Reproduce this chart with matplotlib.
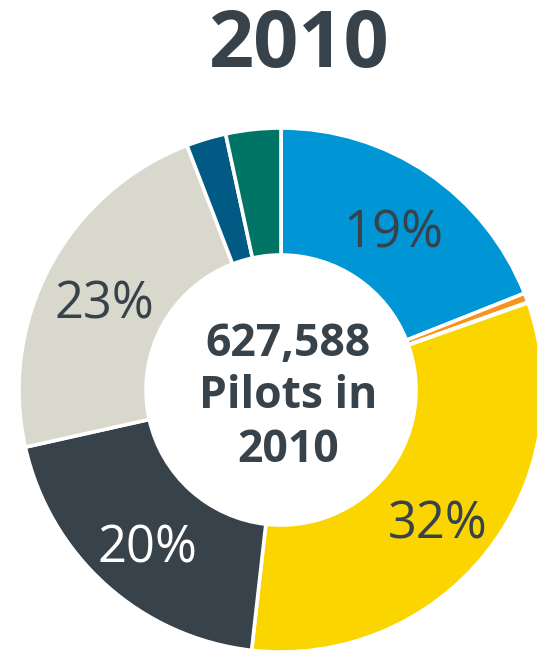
import matplotlib
matplotlib.use("Agg")
import matplotlib.pyplot as plt

# Pilot certificates held in 2010, clockwise from 12 o'clock
categories = ["Student", "Sport", "Recreational", "Private", "Commercial",
              "Airline Transport", "Rotorcraft Only", "Glider Only"]
pilots = [119119, 3682, 212, 202020, 123705, 142198, 15377, 21275]
colors = ["#0096D6", "#F7941D", "#F7941D", "#FBD500", "#37424A",
          "#D9D8CC", "#005A84", "#007565"]
label_colors = ["#37424A", None, None, "#37424A", "#FFFFFF", "#37424A", None, None]

title = "2010"
total = sum(pilots)
center_lines = [f"{total:,}", "Pilots in", title]

plt.rcParams["font.family"] = ["Open Sans", "DejaVu Sans"]
TEXT = "#37424A"

W, H = 537, 653
fig = plt.figure(figsize=(W / 100, H / 100), dpi=100)
ax = fig.add_axes([0, 0, 1, 1])

cx, cy, R = 281, H - 390, 262
wedges, _, autotexts = ax.pie(
    pilots, colors=colors, startangle=90, counterclock=False,
    center=(cx, cy), radius=R,
    autopct=lambda p: f"{p:.0f}%" if p > 5 else "",
    pctdistance=0.765,
    wedgeprops=dict(width=127, edgecolor="white", linewidth=2.6),
    textprops=dict(fontsize=36.5),
)
for t, c in zip(autotexts, label_colors):
    if c is not None:
        t.set_color(c)
    # nudge the glyphs down so the digits sit centred on the ring
    x, y = t.get_position()
    t.set_position((x, y - 10))

ax.set_xlim(0, W)
ax.set_ylim(0, H)
ax.set_aspect("auto")
ax.axis("off")

ax.text(298, H - 47, title, ha="center", va="center",
        fontsize=57, fontweight="bold", color=TEXT)

for i, line in enumerate(center_lines):
    ax.text(288, H - (344 + 53 * i), line, ha="center", va="center",
            fontsize=32, fontweight="bold", color=TEXT)

fig.savefig("out.png", dpi=100, facecolor="white")
